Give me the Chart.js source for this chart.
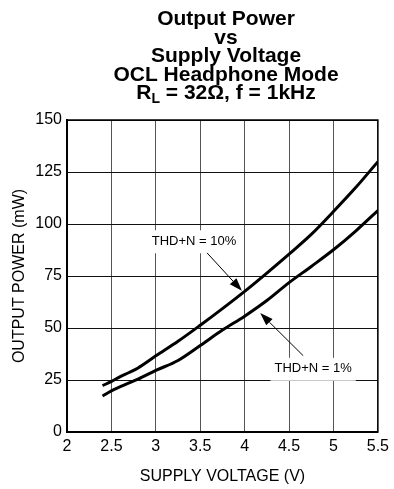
<!DOCTYPE html>
<html>
<head>
<meta charset="utf-8">
<script src="https://cdn.jsdelivr.net/npm/chart.js@4.4.0/dist/chart.umd.min.js"></script>
<style>
  html, body { margin: 0; padding: 0; background: #fff; }
  #wrap { width: 394px; height: 489px; }
</style>
</head>
<body>
<div id="wrap"><canvas id="myChart"></canvas></div>
<script>
var ctx = document.getElementById("myChart");

// supply voltage (V) and output power (mW) for both THD+N limits
var voltage = [2.4, 2.5, 2.6, 2.7, 2.8, 3.0, 3.25, 3.5, 3.75, 4.0, 4.25, 4.5, 4.75, 5.0, 5.25, 5.5];
var power10 = [22.3, 24.3, 26.6, 28.6, 30.8, 36.6, 43.6, 51.3, 59.3, 67.6, 76.4, 85.5, 95.0, 106.0, 117.5, 130.0];
var power1 = [17.3, 19.8, 21.8, 23.6, 25.4, 29.6, 34.4, 41.6, 49.0, 55.7, 63.2, 71.8, 79.6, 87.6, 96.6, 106.5];

var xTicks = [2, 2.5, 3, 3.5, 4, 4.5, 5, 5.5];
var yTicks = [0, 25, 50, 75, 100, 125, 150];

var titleLines = ["Output Power", "vs", "Supply Voltage", "OCL Headphone Mode"];

// labels with arrows, in data units: text centre, arrow start, arrow tip
var notes = [
  { text: "THD+N = 10%", at: [3.43, 91.7], from: [3.577, 86.1], to: [3.969, 67.9] },
  { text: "THD+N = 1%", at: [4.771, 30.4], from: [4.659, 36.7], to: [4.175, 57.2] },
];

function points(xs, ys) {
  return xs.map(function (x, i) { return { x: x, y: ys[i] }; });
}

var titlePlugin = {
  id: "titleBlock",
  afterDraw: function (chart) {
    var c = chart.ctx;
    var cx = 226;
    var big = "bold 21px 'Liberation Sans', Arial, sans-serif";
    var small = "bold 14px 'Liberation Sans', Arial, sans-serif";
    c.save();
    c.fillStyle = "#000";
    c.textAlign = "center";
    c.textBaseline = "alphabetic";
    c.font = big;
    for (var i = 0; i < titleLines.length; i++) {
      c.fillText(titleLines[i], cx, 25 + i * 18.5);
    }
    // last line has a subscript L
    var y = 25 + 4 * 18.5;
    var rest = " = 32\u03A9, f = 1kHz";
    var wR = c.measureText("R").width;
    var wRest = c.measureText(rest).width;
    c.font = small;
    var wL = c.measureText("L").width;
    var x0 = cx - (wR + wL + wRest) / 2;
    c.textAlign = "left";
    c.font = big;
    c.fillText("R", x0, y);
    c.font = small;
    c.fillText("L", x0 + wR, y + 4);
    c.font = big;
    c.fillText(rest, x0 + wR + wL, y);
    c.restore();
  },
};

var notesPlugin = {
  id: "notes",
  afterDatasetsDraw: function (chart) {
    var c = chart.ctx;
    var xs = chart.scales.x;
    var ys = chart.scales.y;
    c.save();
    c.font = "13px 'Liberation Sans', Arial, sans-serif";
    c.textAlign = "center";
    c.textBaseline = "middle";
    notes.forEach(function (n) {
      var tx = xs.getPixelForValue(n.at[0]);
      var ty = ys.getPixelForValue(n.at[1]);
      var w = c.measureText(n.text).width;
      c.fillStyle = "#fff";
      c.fillRect(tx - w / 2 - 4, ty - 11, w + 8, 23);
      c.fillStyle = "#000";
      c.fillText(n.text, tx, ty);

      var x1 = xs.getPixelForValue(n.from[0]);
      var y1 = ys.getPixelForValue(n.from[1]);
      var x2 = xs.getPixelForValue(n.to[0]);
      var y2 = ys.getPixelForValue(n.to[1]);
      var ang = Math.atan2(y2 - y1, x2 - x1);
      var len = 13;
      var half = 4.5;
      var bx = x2 - len * Math.cos(ang);
      var by = y2 - len * Math.sin(ang);
      c.strokeStyle = "#000";
      c.lineWidth = 1;
      c.beginPath();
      c.moveTo(x1, y1);
      c.lineTo(bx, by);
      c.stroke();
      c.beginPath();
      c.moveTo(x2, y2);
      c.lineTo(bx + half * Math.sin(ang), by - half * Math.cos(ang));
      c.lineTo(bx - half * Math.sin(ang), by + half * Math.cos(ang));
      c.closePath();
      c.fill();
    });
    // frame round the plot
    var a = chart.chartArea;
    c.strokeStyle = "#000";
    c.lineWidth = 1.5;
    c.strokeRect(a.left, a.top, a.right - a.left, a.bottom - a.top);
    c.restore();
  },
};

var tickFont = { family: "'Liberation Sans', Arial, sans-serif", size: 16 };
var axisFont = { family: "'Liberation Sans', Arial, sans-serif", size: 16 };

var myChart = new Chart(ctx, {
  type: "line",
  data: {
    datasets: [
      {
        label: "THD+N = 10%",
        data: points(voltage, power10),
        borderColor: "#000",
        borderWidth: 3,
        pointRadius: 0,
        cubicInterpolationMode: "monotone",
        fill: false,
      },
      {
        label: "THD+N = 1%",
        data: points(voltage, power1),
        borderColor: "#000",
        borderWidth: 3,
        pointRadius: 0,
        cubicInterpolationMode: "monotone",
        fill: false,
      },
    ],
  },
  options: {
    responsive: true,
    maintainAspectRatio: false,
    animation: false,
    layout: { padding: { top: 120, right: 14, left: 0, bottom: 0 } },
    plugins: {
      legend: { display: false },
      title: { display: false },
      tooltip: { enabled: false },
    },
    scales: {
      x: {
        type: "linear",
        min: 2,
        max: 5.5,
        afterBuildTicks: function (scale) {
          scale.ticks = xTicks.map(function (v) { return { value: v }; });
        },
        afterFit: function (scale) { scale.height = 57; },
        grid: { color: "#555", lineWidth: 1, drawTicks: false },
        border: { color: "#000", width: 2 },
        ticks: {
          color: "#000",
          padding: 5,
          maxRotation: 0,
          font: tickFont,
          callback: function (value) { return String(value); },
        },
        title: {
          display: true,
          text: "SUPPLY VOLTAGE (V)",
          color: "#000",
          padding: { bottom: 3, top: 0 },
          font: axisFont,
        },
      },
      y: {
        min: 0,
        max: 150,
        afterBuildTicks: function (scale) {
          scale.ticks = yTicks.map(function (v) { return { value: v }; });
        },
        afterFit: function (scale) { scale.width = 67; },
        grid: { color: "#111", lineWidth: 1, drawTicks: false },
        border: { color: "#000", width: 2 },
        ticks: {
          color: "#000",
          padding: 5,
          font: tickFont,
          callback: function (value) { return String(value); },
        },
        title: {
          display: true,
          text: "OUTPUT POWER (mW)",
          color: "#000",
          padding: { top: 10, bottom: 0 },
          font: axisFont,
        },
      },
    },
  },
  plugins: [titlePlugin, notesPlugin],
});
</script>
</body>
</html>
